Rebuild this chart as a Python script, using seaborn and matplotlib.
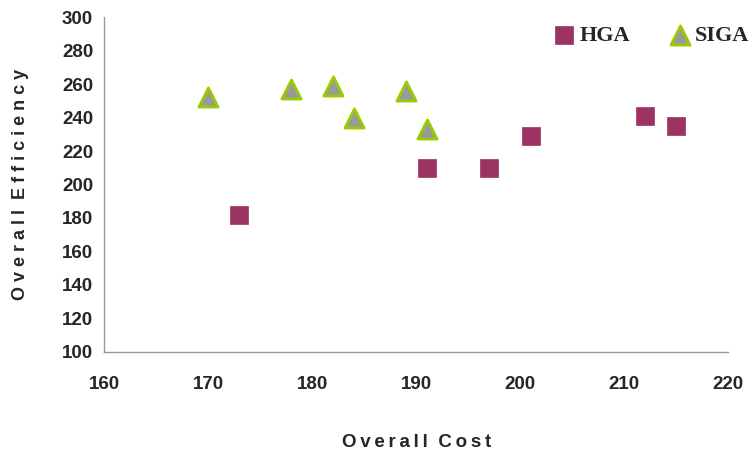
import pandas as pd
import matplotlib.pyplot as plt
import seaborn as sns

# values
hga_cost = [173, 191, 197, 201, 212, 215]
hga_eff = [182, 210, 210, 229, 241, 235]
siga_cost = [170, 178, 182, 184, 189, 191]
siga_eff = [252, 257, 259, 240, 256, 233]
x_ticks = [160, 170, 180, 190, 200, 210, 220]
y_ticks = [100, 120, 140, 160, 180, 200, 220, 240, 260, 280, 300]

df = pd.DataFrame({
    'cost': hga_cost + siga_cost,
    'eff': hga_eff + siga_eff,
    'method': ['HGA'] * len(hga_cost) + ['SIGA'] * len(siga_cost),
})

sns.set_style('white')
plt.rcParams['font.family'] = ['Liberation Sans Narrow', 'Liberation Sans', 'DejaVu Sans']
plt.rcParams['font.weight'] = 'bold'

fig = plt.figure(figsize=(7.5, 4.5), dpi=100)
ax = fig.add_axes([0.139, 0.218, 0.832, 0.744])

sns.scatterplot(data=df[df.method == 'HGA'], x='cost', y='eff', marker='s', s=150,
                color='#9B3462', edgecolor='#9B3462', linewidth=0.5, label='HGA', ax=ax, zorder=3)
sns.scatterplot(data=df[df.method == 'SIGA'], x='cost', y='eff', marker='^', s=190,
                color='#999999', edgecolor='#99CC00', linewidth=2, label='SIGA', ax=ax, zorder=3)

ax.set_xlim(160, 220)
ax.set_ylim(100, 300)
ax.set_xticks(x_ticks)
ax.set_yticks(y_ticks)
for side in ['top', 'right']:
    ax.spines[side].set_visible(False)
for side in ['left', 'bottom']:
    ax.spines[side].set_color('#999999')
    ax.spines[side].set_linewidth(1)
ax.tick_params(axis='both', direction='out', length=5, color='#999999', width=1,
               labelsize=13.5, pad=3)
ax.tick_params(axis='x', pad=12)
for lab in ax.get_xticklabels() + ax.get_yticklabels():
    lab.set_fontweight('bold')

# letter-spaced axis titles, as in the reference
ax.set_xlabel('\u2009'.join('Overall') + '  ' + '\u2009'.join('Cost'),
              fontsize=13.5, fontweight='bold', labelpad=30)
ax.set_ylabel('O v e r a l l  E f f i c i e n c y', fontsize=13, fontweight='bold', labelpad=24)

leg = ax.legend(loc='upper right', ncol=2, frameon=False, bbox_to_anchor=(1.066, 1.035),
                handletextpad=0.1, handlelength=1.2, columnspacing=1.6, markerscale=1.0,
                prop={'family': 'Liberation Serif', 'weight': 'bold', 'size': 16})

fig.savefig('out.png', dpi=100)
